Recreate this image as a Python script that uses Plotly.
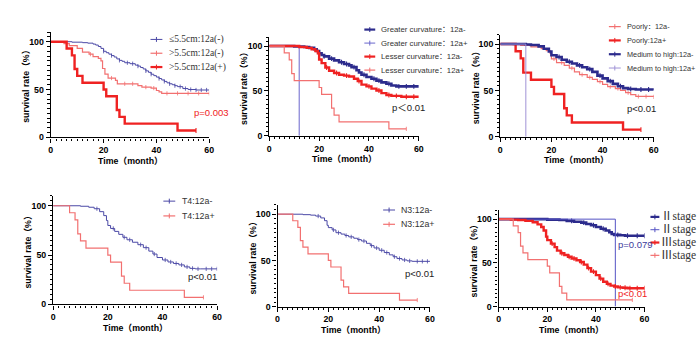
import plotly.graph_objects as go

W, H = 700, 355

# ------------------------- DATA -------------------------
# Panel 1 (tumour size)
p1_a_t = [0, 8, 12, 14, 16, 17, 18, 19, 20, 21, 22, 23, 24, 25, 26, 27, 28, 30, 32, 33, 34, 35, 36, 37, 38, 39, 40, 41, 42, 43, 44, 45, 46, 47, 48, 50, 52, 55, 60]
p1_a_s = [100, 99.5, 99, 98.5, 97.5, 96.5, 95, 93, 90, 88.5, 87, 85.5, 84, 82, 80.5, 79.5, 78, 77, 75.5, 74.5, 73, 71.5, 69.5, 68, 66, 64.5, 63, 61.5, 60, 58.5, 57, 56, 55, 54, 53, 51, 50, 49.5, 49.5]
p1_a_c = [20, 23, 26, 29, 31, 33, 36, 38, 41, 43, 45, 47, 49, 51, 53, 55, 57, 59]
p1_b_t = [0, 5, 7, 10, 12, 14.5, 16, 18, 19, 19.6, 20.5, 21.7, 24.5, 25.2, 33, 34.5, 38, 40, 41, 42, 60]
p1_b_s = [100, 98, 96, 93, 89, 87, 84.5, 82.5, 80, 72, 66, 62, 59.5, 56, 54, 52.5, 51.5, 49, 47.5, 46, 46]
p1_b_c = [15, 23, 28, 31, 36, 39, 44, 48, 52, 56, 60]
p1_c_t = [0, 6, 8, 9, 10, 12, 20, 21, 25, 26, 28, 48, 55]
p1_c_s = [100, 92.9, 85.7, 71.4, 64.3, 57.1, 50, 42.9, 28.6, 21.4, 14.3, 7.1, 7.1]
p1_c_c = [55]

# Panel 2 (tumour location)
p2_a_t = [0, 10, 14, 16, 18, 19, 20, 21, 22, 24, 26, 28, 30, 32, 33, 35, 36, 37, 39, 41, 43, 45, 47, 49, 51, 60]
p2_a_s = [100, 99.5, 99, 98, 96.5, 94.5, 92, 90, 88.5, 86, 84, 82, 80, 78.5, 76.5, 73, 70.5, 68, 65.5, 63.5, 61.5, 59.5, 58, 56, 55, 55]
p2_a_c = [22, 25, 29, 31, 34, 38, 42, 44, 48, 52, 55, 58]
p2_b_t = [0, 12]
p2_b_s = [100, 0]
p2_c_t = [0, 12, 15, 17, 18.5, 19.5, 20, 21, 22.5, 24, 26, 28, 30, 32, 34, 35.5, 37, 39, 41, 43, 45, 47, 49, 53, 60]
p2_c_s = [100, 99, 98, 96.5, 94.5, 92, 85, 81, 76, 72.5, 70, 68, 67, 66, 63.5, 61, 57, 55, 52.5, 50.5, 47.5, 45.5, 44.5, 43.5, 43.5]
p2_c_c = [23, 27, 31, 36, 40, 44, 48, 51, 55, 58]
p2_d_t = [0, 6, 8, 9, 10, 20, 21, 25, 26, 28, 48, 55]
p2_d_s = [100, 92.3, 84.6, 69.2, 61.5, 53.8, 46.2, 30.8, 23.1, 15.4, 7.7, 7.7]
p2_d_c = [55]

# Panel 3 (differentiation)
p3_a_t = [0, 5, 8, 12, 16, 18, 19.5, 20, 22, 25, 27, 29, 31, 34, 36, 38, 40, 42, 45, 47, 49, 51, 53, 60]
p3_a_s = [100, 99.5, 98.5, 97, 95, 93, 90, 84, 80, 77, 74, 70, 67, 64, 62, 59.5, 56.5, 54, 52, 50, 47.5, 45.5, 43.5, 43]
p3_a_c = [21, 24, 28, 32, 35, 39, 43, 46, 50, 54, 57, 60]
p3_b_t = [0, 6, 8, 9, 12, 20, 21, 25, 26, 28, 48, 55]
p3_b_s = [100, 92.3, 84.6, 69.2, 61.5, 53.8, 46.2, 30.8, 23.1, 15.4, 7.7, 7.7]
p3_b_c = [55]
p3_c_t = [0, 10, 12, 15, 17, 19, 20, 22, 24, 26, 28, 30, 32, 34, 36, 38, 40, 42, 44, 46, 48, 50, 53, 60]
p3_c_s = [100, 99.5, 99, 97.5, 95, 92, 88, 86, 83, 81, 79, 77, 75, 73, 70, 66, 63, 60, 57, 54.5, 52.5, 51.5, 51, 50.5]
p3_c_c = [23, 27, 31, 35, 39, 43, 47, 51, 55, 58]
p3_d_t = [0, 10]
p3_d_s = [100, 0]

# Panel 4 (T4)
p4_a_t = [0, 10, 13, 15, 17, 18.5, 19.5, 20, 21, 22.5, 24, 25.5, 27, 29, 31, 33, 35, 36.5, 38, 40, 42, 44, 46, 48, 50, 52, 54, 60]
p4_a_s = [100, 99.5, 98.5, 97, 94, 90, 85, 80, 77, 74, 71, 68, 65.5, 63, 60.5, 57.5, 54, 51, 47.5, 45, 43, 41.5, 40, 38, 36.5, 36, 36, 36]
p4_a_c = [16, 22, 26, 28, 32, 34, 37, 41, 43, 45, 47, 49, 51, 53, 56, 58, 60]
p4_b_t = [0, 6, 8, 9, 10, 12, 20, 21, 25, 26, 28, 48, 55]
p4_b_s = [100, 92.9, 85.7, 71.4, 64.3, 57.1, 50, 42.9, 28.6, 21.4, 14.3, 7.1, 7.1]
p4_b_c = [55]

# Panel 5 (N3)
p5_a_t = [0, 10, 13, 15, 17, 18.5, 19.5, 20, 21.5, 23, 25, 26.5, 28, 30, 31.5, 33, 35, 36.5, 38, 40, 42, 44, 45.5, 47, 49, 51, 53, 60]
p5_a_s = [100, 99.5, 99, 98, 96, 93, 88, 85.5, 83, 80, 78.5, 77, 75.5, 74, 72.5, 71, 68.5, 66, 63.5, 61, 58.5, 56, 54, 52, 50.5, 49.5, 49, 49]
p5_a_c = [16, 22, 24, 27, 29, 32, 34, 37, 39, 41, 43, 46, 48, 50, 52, 55, 57, 59]
p5_b_t = [0, 6, 8, 9, 10, 12, 20, 21, 25, 26, 28, 48, 55]
p5_b_s = [100, 92.9, 85.7, 71.4, 64.3, 57.1, 50, 42.9, 28.6, 21.4, 14.3, 7.1, 7.1]
p5_b_c = [55]

# Panel 6 (stage)
p6_a_t = [0, 20, 25, 28, 31, 34, 36, 38, 40, 42, 44, 45.5, 46.5, 47.5, 50, 52, 55, 60]
p6_a_s = [100, 99.5, 99, 98, 97, 96, 94.5, 93, 91, 89, 87, 85, 83, 82, 81.5, 81, 81, 81]
p6_a_c = [30, 35, 39, 43, 49, 53, 57, 60]
p6_b_t = [0, 48]
p6_b_s = [100, 0]
p6_c_t = [0, 5, 8, 11, 14, 16, 17.5, 18.5, 19.5, 20, 21.5, 23, 24, 25.5, 27, 28.5, 30, 32, 33.5, 35, 36.5, 38, 40, 41.5, 43, 44.5, 46, 47.5, 49, 51, 53, 55, 60]
p6_c_s = [100, 99.5, 99, 98, 96.5, 94, 91, 87, 80, 76, 72, 68, 64, 61, 59, 57, 55, 53, 51, 48, 44, 40, 36, 32, 28.5, 26, 24, 23, 22, 21.5, 21, 21, 21]
p6_c_c = [22, 26, 29, 31, 34, 37, 39, 42, 45, 48, 50, 52, 54, 57, 60]
p6_d_t = [0, 6, 8, 9, 10, 12, 20, 21, 25, 26, 28, 55]
p6_d_s = [100, 92.3, 84.6, 69.2, 61.5, 53.8, 46.2, 38.5, 23.1, 15.4, 7.7, 7.7]
p6_d_c = [55]

x_ticks = [0, 20, 40, 60]
y_ticks = [0, 50, 100]

x_title = "Time（month）"
y_title = "survival rate（%）"

# ------------------------- STYLE -------------------------
NAVY = "#2c2b8c"
BLUE = "#4b49a6"
LAV = "#6a66cc"
LAV2 = "#a093d6"
RED = "#ef2222"
PINK = "#f27070"

SERIF = "Liberation Serif, Noto Sans CJK SC"
SANS = "Liberation Sans, Noto Sans CJK SC"

panels = [
    dict(dom=(49.3, 209.3, 32.6, 139.3),
         series=[("≤5.5cm:12a(-)", p1_a_t, p1_a_s, p1_a_c, BLUE, 1.0),
                 (">5.5cm:12a(-)", p1_b_t, p1_b_s, p1_b_c, PINK, 1.2),
                 (">5.5cm:12a(+)", p1_c_t, p1_c_s, p1_c_c, RED, 2.4)],
         leg=dict(x0=150, x1=162, tx=168, y0=40, dy=14, font=dict(family=SERIF, size=9.5, color="#333")),
         pv=[("p=0.003", 54, 26, RED)]),
    dict(dom=(270, 421, 37.6, 137.7),
         series=[("Greater curvature：12a-", p2_a_t, p2_a_s, p2_a_c, NAVY, 2.6),
                 ("Greater curvature：12a+", p2_b_t, p2_b_s, [], LAV, 1.0),
                 ("Lesser curvature：12a-", p2_c_t, p2_c_s, p2_c_c, RED, 2.4),
                 ("Lesser curvature：12a+", p2_d_t, p2_d_s, p2_d_c, PINK, 1.2)],
         leg=dict(x0=366, x1=377, tx=382, y0=30, dy=13.7, font=dict(family=SANS, size=7.8, color="#333")),
         pv=[("p＜0.01", 48.9, 31.5, "#222")]),
    dict(dom=(503.3, 658.3, 35.3, 138.7),
         series=[("Poorly：12a-", p3_a_t, p3_a_s, p3_a_c, PINK, 1.2),
                 ("Poorly:12a+", p3_b_t, p3_b_s, p3_b_c, RED, 2.4),
                 ("Medium to high:12a-", p3_c_t, p3_c_s, p3_c_c, NAVY, 2.6),
                 ("Medium to high:12a+", p3_d_t, p3_d_s, [], LAV2, 1.0)],
         leg=dict(x0=613, x1=625, tx=630, y0=27, dy=14, font=dict(family=SANS, size=7.3, color="#333")),
         pv=[("p<0.01", 49, 30.5, "#222")]),
    dict(dom=(51.7, 217.3, 198.7, 308.7),
         series=[("T4:12a-", p4_a_t, p4_a_s, p4_a_c, BLUE, 1.0),
                 ("T4:12a+", p4_b_t, p4_b_s, p4_b_c, PINK, 1.2)],
         leg=dict(x0=163, x1=175, tx=181, y0=204, dy=15, font=dict(family=SANS, size=8.8, color="#333")),
         pv=[("p<0.01", 49, 28.7, "#222")]),
    dict(dom=(278.3, 432.3, 207.9, 311),
         series=[("N3:12a-", p5_a_t, p5_a_s, p5_a_c, BLUE, 1.0),
                 ("N3:12a+", p5_b_t, p5_b_s, p5_b_c, PINK, 1.2)],
         leg=dict(x0=385, x1=397, tx=402, y0=213, dy=14.5, font=dict(family=SANS, size=8.8, color="#333")),
         pv=[("p<0.01", 49.8, 36.3, "#222")]),
    dict(dom=(501.7, 649, 213.4, 311),
         series=[("Ⅱstage", p6_a_t, p6_a_s, p6_a_c, NAVY, 2.6),
                 ("Ⅱstage", p6_b_t, p6_b_s, [], "#5553c4", 1.0),
                 ("Ⅲstage", p6_c_t, p6_c_s, p6_c_c, RED, 2.4),
                 ("Ⅲstage", p6_d_t, p6_d_s, p6_d_c, PINK, 1.2)],
         leg=dict(x0=655, x1=664, tx=665, y0=220, dy=13, font=dict(family=SERIF, size=11.5, color="#333")),
         pv=[("p=0.079", 48.6, 71, "#3b3a9a"), ("p<0.01", 48.6, 14.7, RED)]),
]


def step_at(ts, ss, t):
    v = ss[0]
    for ti, si in zip(ts, ss):
        if ti <= t:
            v = si
    return v


def px(x):
    return x / W


def py(y):
    return 1 - y / H


fig = go.Figure()
shapes = []
annotations = []
axis_font = dict(family="Liberation Sans", size=8.8, color="black", weight="bold")

for i, p in enumerate(panels):
    k = "" if i == 0 else str(i + 1)
    xa, ya = "x" + k, "y" + k
    x0, x1, ytop, ybot = p["dom"]
    for (name, t, s, cens, col, w) in p["series"]:
        fig.add_trace(go.Scatter(x=t, y=s, mode="lines", line=dict(color=col, width=w, shape="hv"),
                                 name=name, showlegend=False, xaxis=xa, yaxis=ya, hoverinfo="skip"))
        if cens:
            fig.add_trace(go.Scatter(x=cens, y=[step_at(t, s, c) for c in cens], mode="markers",
                                     marker=dict(symbol="line-ns", size=3.5 if w > 2 else 3,
                                                 line=dict(color=col, width=1.1 if w > 2 else 0.8)),
                                     showlegend=False, xaxis=xa, yaxis=ya, hoverinfo="skip"))
    common = dict(showline=True, linecolor="black", linewidth=1.4, ticks="outside", ticklen=4,
                  tickwidth=1.3, tickcolor="black", showgrid=False, zeroline=False,
                  tickfont=axis_font, fixedrange=True)
    fig.layout["xaxis" + k] = dict(domain=[px(x0), px(x1)], range=[0, 60], tickvals=x_ticks,
                                   anchor=ya, minor=dict(dtick=2, ticks="outside", ticklen=2.2,
                                                         tickwidth=1, tickcolor="black"), **common)
    fig.layout["yaxis" + k] = dict(domain=[py(ybot), py(ytop)], range=[0, 110], tickvals=y_ticks,
                                   anchor=xa, minor=dict(dtick=5, ticks="outside", ticklen=2.2,
                                                         tickwidth=1, tickcolor="black"), **common)
    # axis titles
    annotations.append(dict(text=x_title, xref="paper", yref="paper", x=px((x0 + x1) / 2),
                            y=py(ybot + 24), showarrow=False, xanchor="center", yanchor="middle",
                            font=dict(family=SANS, size=8.8, color="black", weight="bold")))
    annotations.append(dict(text=y_title, xref="paper", yref="paper", x=px(x0 - 25),
                            y=py((ytop + ybot) / 2), showarrow=False, textangle=-90,
                            xanchor="center", yanchor="middle",
                            font=dict(family=SANS, size=8.8, color="black", weight="bold")))
    # p values
    for (txt, xv, yv, col) in p["pv"]:
        annotations.append(dict(text=txt, xref=xa, yref=ya, x=xv, y=yv, showarrow=False,
                                xanchor="left", yanchor="middle", borderpad=0,
                                font=dict(family=SANS, size=9.5, color=col)))
    # legend
    L = p["leg"]
    for j, (name, t, s, cens, col, w) in enumerate(p["series"]):
        yy = L["y0"] + j * L["dy"]
        shapes.append(dict(type="line", xref="paper", yref="paper", x0=px(L["x0"]), x1=px(L["x1"]),
                           y0=py(yy), y1=py(yy), line=dict(color=col, width=min(w, 2.2))))
        xm = (L["x0"] + L["x1"]) / 2
        shapes.append(dict(type="line", xref="paper", yref="paper", x0=px(xm), x1=px(xm),
                           y0=py(yy - 2.5), y1=py(yy + 2.5), line=dict(color=col, width=1)))
        annotations.append(dict(text=name, xref="paper", yref="paper", x=px(L["tx"]), y=py(yy),
                                showarrow=False, xanchor="left", yanchor="middle", borderpad=0,
                                font=L["font"]))

fig.update_layout(width=W, height=H, margin=dict(l=0, r=0, t=0, b=0),
                  paper_bgcolor="white", plot_bgcolor="white", showlegend=False,
                  shapes=shapes, annotations=annotations)

fig.write_html("out.html", config={"displayModeBar": False},
               post_script="document.body.style.margin='0';document.body.style.overflow='hidden';")
